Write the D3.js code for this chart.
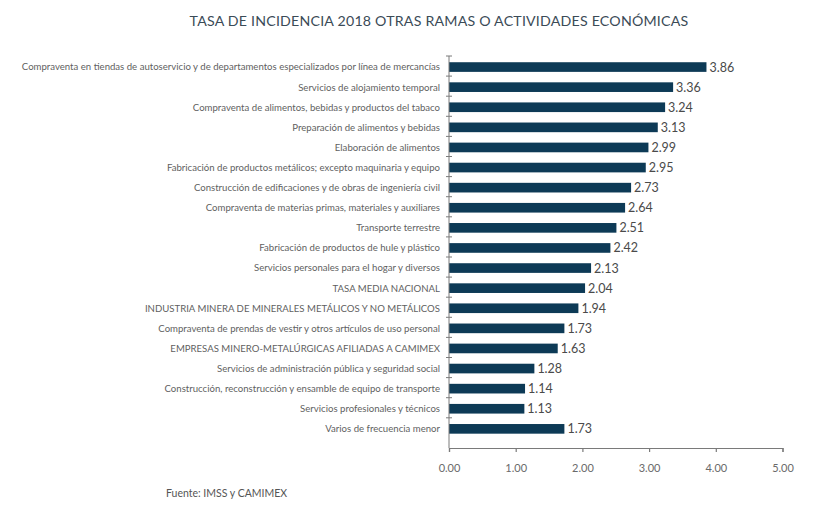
<!DOCTYPE html>
<html>
<head>
<meta charset="utf-8">
<script src="https://cdn.jsdelivr.net/npm/d3@7"></script>
<style>
  body { margin: 0; background: #fff; }
  svg { display: block; font-family: Lato, "Noto Sans", sans-serif; }
</style>
</head>
<body>
<div id="chart"></div>
<script>
// Datos del gráfico
const categories = [
  "Compraventa en tiendas de autoservicio y de departamentos especializados por línea de mercancías",
  "Servicios de alojamiento temporal",
  "Compraventa de alimentos, bebidas y productos del tabaco",
  "Preparación de alimentos y bebidas",
  "Elaboración de alimentos",
  "Fabricación de productos metálicos; excepto maquinaria y equipo",
  "Construcción de edificaciones y de obras de ingeniería civil",
  "Compraventa de materias primas, materiales y auxiliares",
  "Transporte terrestre",
  "Fabricación de productos de hule y plástico",
  "Servicios personales para el hogar y diversos",
  "TASA MEDIA NACIONAL",
  "INDUSTRIA MINERA DE MINERALES METÁLICOS Y NO METÁLICOS",
  "Compraventa de prendas de vestir y otros artículos de uso personal",
  "EMPRESAS MINERO-METALÚRGICAS AFILIADAS A CAMIMEX",
  "Servicios de administración pública y seguridad social",
  "Construcción, reconstrucción y ensamble de equipo de transporte",
  "Servicios profesionales y técnicos",
  "Varios de frecuencia menor"
];
const values = [3.86, 3.36, 3.24, 3.13, 2.99, 2.95, 2.73, 2.64, 2.51, 2.42, 2.13,
  2.04, 1.94, 1.73, 1.63, 1.28, 1.14, 1.13, 1.73];
const xTicks = [0, 1, 2, 3, 4, 5];

const title = "TASA DE INCIDENCIA 2018 OTRAS RAMAS O ACTIVIDADES ECONÓMICAS";
const source = "Fuente: IMSS y CAMIMEX";

const width = 827;
const height = 510;
const margin = { top: 56, left: 449, right: 44, bottom: 62 };

const data = categories.map((c, i) => ({ cat: c, value: values[i] }));

const svg = d3.select("#chart")
  .append("svg")
  .attr("width", width)
  .attr("height", height);

// Escalas
const x = d3.scaleLinear()
  .domain([0, 5])
  .range([margin.left, width - margin.right - 0.5]);

const rows = d3.scaleBand()
  .domain(categories)
  .range([margin.top, margin.top + 20.1 * categories.length]);

const axisBottomY = height - margin.bottom;

// Título
svg.append("text")
  .attr("x", 439)
  .attr("y", 26)
  .attr("text-anchor", "middle")
  .style("font-size", "14.2px")
  .style("letter-spacing", "0.2px")
  .style("fill", "#3b4b57")
  .text(title);

// Barras
const barH = rows.bandwidth() * 0.48;
svg.append("g")
  .selectAll("rect")
  .data(data)
  .join("rect")
  .attr("x", x(0))
  .attr("y", d => rows(d.cat) + (rows.bandwidth() - barH) / 2 + 1)
  .attr("width", d => x(d.value) - x(0))
  .attr("height", barH)
  .attr("fill", "#0d3a56");

// Etiquetas de valores
svg.append("g")
  .selectAll("text")
  .data(data)
  .join("text")
  .attr("x", d => x(d.value) + 3)
  .attr("y", d => rows(d.cat) + rows.bandwidth() / 2 + 1)
  .attr("dy", "0.36em")
  .style("font-size", "12.5px")
  .style("fill", "#4a4a4a")
  .text(d => d.value.toFixed(2));

// Etiquetas de categorías
svg.append("g")
  .selectAll("text")
  .data(data)
  .join("text")
  .attr("x", margin.left - 9)
  .attr("y", d => rows(d.cat) + rows.bandwidth() / 2 + 1)
  .attr("dy", "0.35em")
  .attr("text-anchor", "end")
  .style("font-size", "9.6px")
  .style("fill", "#5f5f5f")
  .text(d => d.cat);

// Eje Y: línea y marcas entre categorías
const yAxis = svg.append("g").attr("stroke", "#7a7a7a");
yAxis.append("line")
  .attr("x1", x(0)).attr("x2", x(0))
  .attr("y1", margin.top).attr("y2", axisBottomY);
yAxis.selectAll("line.tick")
  .data(categories)
  .join("line")
  .attr("class", "tick")
  .attr("x1", x(0) - 3).attr("x2", x(0) + 3)
  .attr("y1", d => rows(d)).attr("y2", d => rows(d));

// Eje X
const xAxis = svg.append("g")
  .attr("transform", `translate(0, ${axisBottomY})`)
  .call(d3.axisBottom(x).tickValues(xTicks).tickSize(4).tickFormat(d3.format(".2f")));
xAxis.select(".domain").attr("stroke", "#7a7a7a").attr("stroke-width", 1.2);
xAxis.selectAll(".tick line").attr("stroke", "#7a7a7a").attr("stroke-width", 1.2);
xAxis.selectAll(".tick text")
  .attr("dy", "1.5em")
  .style("font-size", "11px")
  .style("font-family", "Lato, sans-serif")
  .style("fill", "#6a6a6a");

// Fuente
svg.append("text")
  .attr("x", 166)
  .attr("y", 497)
  .style("font-size", "10.5px")
  .style("fill", "#555")
  .text(source);
</script>
</body>
</html>
